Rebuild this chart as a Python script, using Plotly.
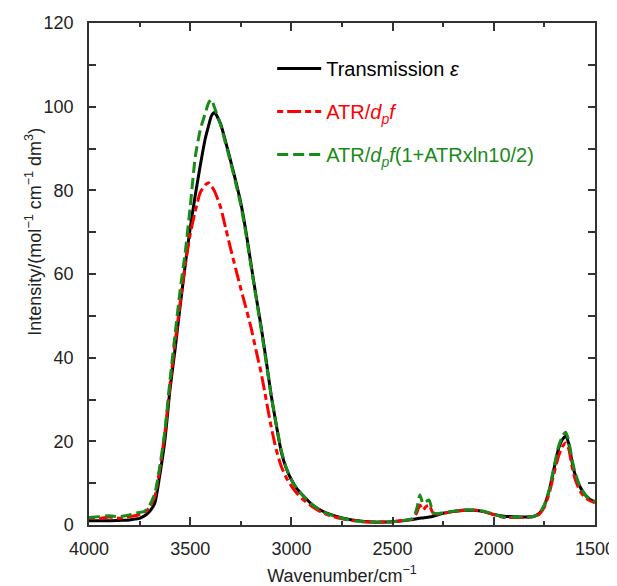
import plotly.graph_objects as go

# Wavenumber grid (cm^-1)
wavenumber = [4000, 3950, 3900, 3850, 3800, 3775, 3750, 3725, 3700, 3675,
              3650, 3625, 3600, 3575, 3550, 3525, 3500, 3475, 3450, 3425,
              3410, 3395, 3380, 3350, 3325, 3300, 3275, 3250, 3225, 3200,
              3175, 3150, 3125, 3100, 3075, 3050, 3025, 3000, 2975, 2950,
              2900, 2850, 2800, 2750, 2700, 2650, 2600, 2550, 2500, 2450,
              2400, 2380, 2365, 2350, 2335, 2320, 2300, 2280, 2250, 2200,
              2150, 2100, 2050, 2000, 1950, 1900, 1850, 1800, 1775, 1750,
              1725, 1700, 1680, 1660, 1645, 1630, 1615, 1600, 1575, 1550,
              1525, 1500]

# Transmission epsilon (black)
transmission = [1.0, 1.0, 1.0, 1.1, 1.2, 1.4, 1.6, 2.2, 3.3, 5.2,
                12.0, 20.3, 32.3, 41.9, 52.2, 62.0, 71.0, 78.8, 86.0, 92.5,
                95.3, 97.8, 98.6, 95.9, 91.6, 87.0, 82.2, 77.0, 70.3, 62.5,
                54.8, 47.5, 39.5, 31.0, 24.0, 17.5, 13.5, 10.8, 8.8, 7.4,
                5.0, 3.4, 2.4, 1.7, 1.2, 0.9, 0.7, 0.7, 0.8, 1.0,
                1.3, 1.5, 1.6, 1.7, 1.8, 1.9, 2.1, 2.4, 2.8, 3.2,
                3.5, 3.5, 3.2, 2.5, 2.1, 2.0, 1.9, 2.1, 2.8, 4.7,
                8.5, 14.0, 18.3, 20.5, 21.2, 19.5, 15.5, 12.3, 9.2, 7.3,
                6.1, 5.5]

# ATR / dp f (red)
atr = [1.8, 1.6, 1.9, 1.6, 2.0, 2.2, 2.5, 3.0, 4.3, 6.8,
       13.5, 22.0, 33.5, 43.5, 53.0, 62.0, 69.5, 75.0, 79.5, 81.3,
       81.8, 81.0, 79.8, 76.0, 71.0, 66.0, 61.2, 56.5, 52.0, 47.3,
       41.8, 36.5, 30.0, 23.5, 18.0, 14.0, 11.3, 9.3, 7.7, 6.4,
       4.5, 3.0, 2.1, 1.5, 1.1, 0.8, 0.7, 0.7, 0.8, 1.1,
       1.5, 3.0, 4.8, 3.6, 4.4, 4.8, 2.8, 2.6, 2.8, 3.2,
       3.5, 3.6, 3.2, 2.5, 1.8, 1.8, 1.8, 2.0, 2.6, 4.3,
       7.8, 12.8, 16.5, 18.8, 19.6, 18.2, 14.3, 11.2, 8.2, 6.6,
       5.8, 5.3]

# ATR / dp f (1 + ATR x ln10/2) (green)
atr_corrected = [1.8, 2.0, 2.2, 2.0, 2.4, 2.8, 3.0, 3.3, 4.8, 7.5,
                 14.0, 22.5, 34.5, 45.5, 56.0, 65.0, 76.0, 88.0, 94.5, 98.5,
                 100.8, 101.7, 99.8, 95.7, 91.2, 86.6, 81.7, 76.5, 69.7, 62.0,
                 54.5, 47.0, 39.0, 31.0, 24.0, 17.8, 13.6, 10.8, 8.8, 7.4,
                 5.0, 3.3, 2.3, 1.6, 1.1, 0.8, 0.7, 0.7, 0.8, 1.1,
                 1.6, 4.0, 7.2, 5.2, 5.6, 6.0, 3.0, 2.7, 2.9, 3.3,
                 3.6, 3.6, 3.3, 2.6, 1.9, 1.9, 1.9, 2.1, 2.8, 4.8,
                 8.6, 14.5, 18.8, 21.3, 22.2, 20.2, 16.0, 12.8, 9.3, 7.3,
                 6.2, 5.6]

series_names = [
    "<span style='color:#000000'>Transmission <i>ε</i></span>",
    "<span style='color:#ff0000'>ATR/<i>d</i><sub><i>p</i></sub><i>f</i></span>",
    "<span style='color:#1a8a1a'>ATR/<i>d</i><sub><i>p</i></sub><i>f</i>(1+ATRxln10/2)</span>",
]

FONT = "Liberation Sans, Arial, sans-serif"

fig = go.Figure()
fig.add_trace(go.Scatter(x=wavenumber, y=transmission, mode="lines",
                         name=series_names[0], legendgroup="a",
                         line=dict(color="#000000", width=3, shape="spline", smoothing=0.6)))
fig.add_trace(go.Scatter(x=wavenumber, y=atr, mode="lines",
                         name=series_names[1], legendgroup="b",
                         line=dict(color="#ff0000", width=3, dash="6px,4px,14px,4px",
                                   shape="spline", smoothing=0.6)))
fig.add_trace(go.Scatter(x=wavenumber, y=atr_corrected, mode="lines",
                         name=series_names[2], legendgroup="c",
                         line=dict(color="#1a8a1a", width=3, dash="11px,5px",
                                   shape="spline", smoothing=0.6)))

axis_common = dict(
    showline=True, linecolor="#333333", linewidth=1.5, mirror="allticks",
    ticks="inside", tickwidth=1.5, tickcolor="#333333",
    showgrid=False, zeroline=False, automargin=False,
    tickfont=dict(family=FONT, size=18, color="#222222"),
)

fig.update_xaxes(range=[4000, 1500], tick0=0, dtick=500, ticklen=8,
                 minor=dict(dtick=250, ticks="inside", ticklen=4, tickwidth=1.5,
                            tickcolor="#333333", showgrid=False),
                 ticklabelstandoff=7,
                 title=dict(text="Wavenumber/cm<sup>−1</sup>",
                            font=dict(family=FONT, size=18, color="#222222"),
                            standoff=12),
                 **axis_common)
fig.update_yaxes(range=[0, 120], tick0=0, dtick=20, ticklen=7,
                 minor=dict(dtick=10, ticks="inside", ticklen=7, tickwidth=1.5,
                            tickcolor="#333333", showgrid=False),
                 ticklabelstandoff=10,
                 **axis_common)

fig.add_annotation(text="Intensity/(mol<sup>−1</sup> cm<sup>−1</sup> dm<sup>3</sup>)",
                   xref="paper", yref="paper", x=-0.11, y=0.585,
                   xanchor="center", yanchor="middle", textangle=-90,
                   showarrow=False,
                   font=dict(family=FONT, size=18, color="#222222"))

# page body adds an 8px offset, so the figure is sized to fit the 617x586 window
fig.update_layout(
    width=609, height=578,
    margin=dict(l=81, r=22, t=15, b=61),
    paper_bgcolor="white", plot_bgcolor="white",
    showlegend=True,
    legend=dict(x=0.362, y=0.948, xanchor="left", yanchor="top",
                bgcolor="rgba(0,0,0,0)", borderwidth=0,
                font=dict(family=FONT, size=20, color="#000000"),
                tracegroupgap=14, itemwidth=44),
)

fig.write_html("out.html")
